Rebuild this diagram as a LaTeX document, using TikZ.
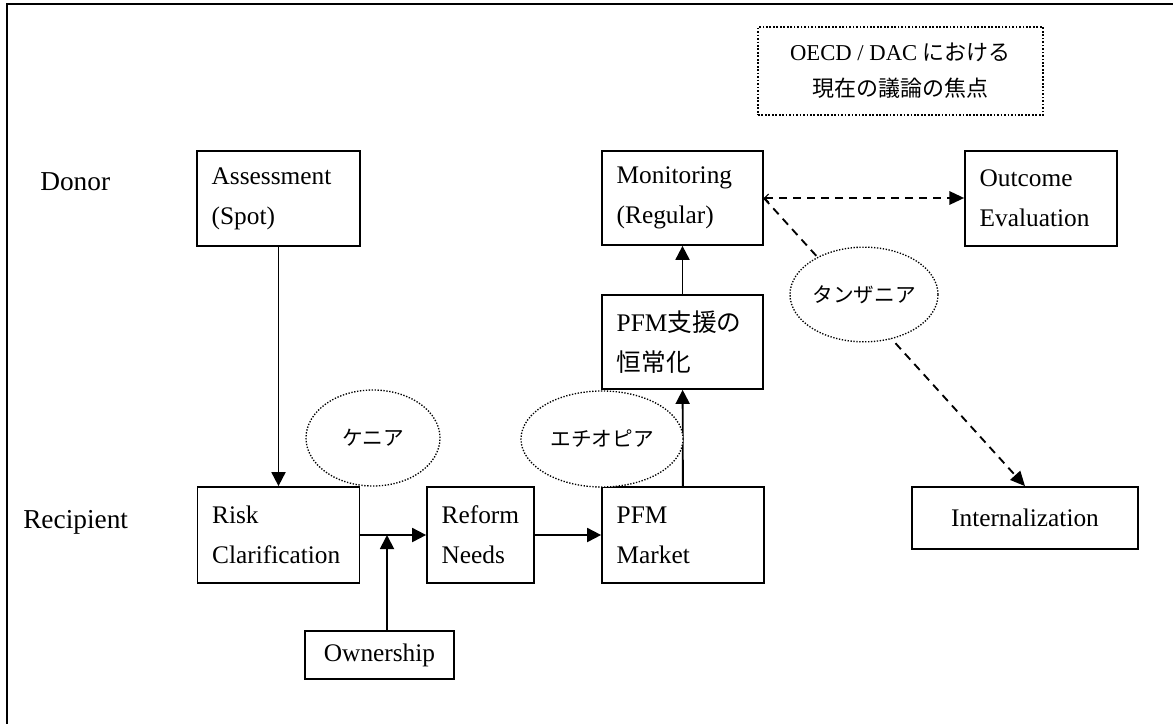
\documentclass[tikz,border=0pt]{standalone}
\usepackage{fontspec}
\setmainfont{Liberation Serif}
\newfontfamily\jp{Noto Sans CJK JP}
\usetikzlibrary{arrows.meta,shapes.geometric}
\newcommand\jbox[1]{{\jp\fontsize{18.5}{30}\selectfont #1}}
\tikzset{
  frame/.style={line width=1.5pt},
  box/.style={draw, line width=1.3pt, align=left, inner xsep=11pt, inner ysep=0pt,
    font=\fontsize{19}{30}\selectfont},
  cbox/.style={draw, line width=1.3pt, align=center, inner sep=0pt,
    font=\fontsize{19}{30}\selectfont},
  note/.style={draw, line width=1.3pt, dash pattern=on 1.3pt off 1.3pt, align=center, inner sep=0pt,
    font=\fontsize{17}{27}\selectfont},
  oval/.style={ellipse, draw, fill=white, line width=1pt, dash pattern=on 1pt off 1.2pt,
    inner sep=0pt, font=\jp\fontsize{15.5}{18}\selectfont},
  lane/.style={anchor=west, inner sep=0pt, font=\fontsize{20.5}{24}\selectfont},
  arr/.style={line width=1.4pt, -{Triangle[length=10.5pt,width=10.5pt]}},
  darr/.style={line width=1.4pt, dash pattern=on 6pt off 4.5pt, -{Triangle[length=11pt,width=10pt]}},
  barb/.style={{Straight Barb[length=3pt,width=6pt,line width=0.8pt]}-{Triangle[length=11pt,width=10pt]}}
}
\begin{document}
\begin{tikzpicture}[x=0.75pt,y=-0.75pt]
\useasboundingbox (0,0) rectangle (1173,724);
% outer frame (only top and left edges visible)
\coordinate (ftr) at (1173,4);
\coordinate (ftl) at (7,4);
\coordinate (fbl) at (7,724);
\draw[frame] (ftr) -- (ftl) -- (fbl);

% lane labels
\node[lane] (donor) at (40,182) {Donor};
\node[lane] (recip) at (23,522) {Recipient};

% note box
\node[note, minimum width=213.75pt, minimum height=66pt] (oecd) at (900.5,71)
  {OECD / DAC {\jp\fontsize{16.5}{27}\selectfont における}\\{\jp\fontsize{16.5}{27}\selectfont 現在の議論の焦点}};

% donor row
\node[box, text width=100.25pt, minimum height=71.25pt] (assess) at (278.5,198.5) {Assessment\\(Spot)};
\node[box, text width=98.75pt, minimum height=70.5pt] (mon) at (682.5,198) {Monitoring\\(Regular)};
\node[box, text width=92pt, minimum height=71.25pt] (outc) at (1041,198.5) {Outcome\\Evaluation};

% middle
\node[box, text width=98.75pt, minimum height=70.5pt] (pfms) at (682.5,342) {PFM\jbox{支援の}\\\jbox{恒常化}};

% recipient row
\node[box, text width=99.5pt, minimum height=72pt] (risk) at (278.5,535) {Risk\\Clarification};
\node[box, text width=58.25pt, minimum height=72pt] (reform) at (480.5,535) {Reform\\Needs};
\node[box, text width=99.5pt, minimum height=72pt] (market) at (683,535) {PFM\\Market};
\node[cbox, minimum width=169.5pt, minimum height=46.5pt] (intern) at (1025,518) {Internalization};
\node[cbox, minimum width=111.75pt, minimum height=36pt] (own) at (379.5,655) {Ownership};

% connectors
\coordinate (join) at (387,535);
\draw[arr] (assess) -- (risk);
\draw[arr] (risk.east |- join) -- (reform.west |- join);
\draw[arr] (own.north -| join) -- (join);
\draw[arr] (reform) -- (market);
\draw[arr] (market) -- (pfms);
\draw[arr] (pfms) -- (mon);
\draw[darr, barb] (mon.east) -- (outc.west |- mon.east);
\draw[darr] (mon.east) -- (intern.north);

% country ovals
\node[oval, minimum width=100.5pt, minimum height=72pt] (kenya) at (373,438) {ケニア};
\node[oval, minimum width=121.5pt, minimum height=72pt] (ethi) at (602,439) {エチオピア};
\node[oval, minimum width=111pt, minimum height=71pt] (tanz) at (864,294.5) {タンザニア};
\end{tikzpicture}
\end{document}
